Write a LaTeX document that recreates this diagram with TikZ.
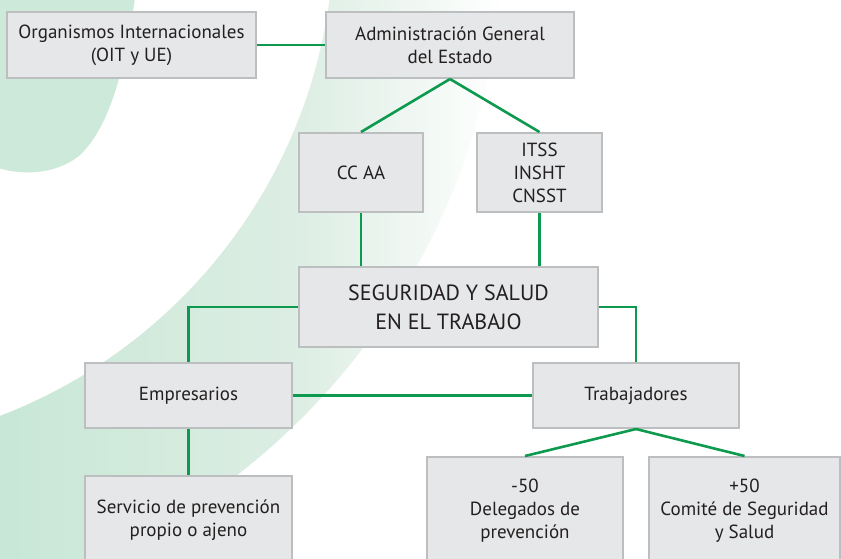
\documentclass[tikz,border=0pt]{standalone}
\usepackage{fontspec}
\setmainfont{PT Sans}
\definecolor{boxfill}{HTML}{E6E7E8}
\definecolor{boxline}{HTML}{BDBEC0}
\definecolor{linkgreen}{HTML}{0E9A4E}
\definecolor{bandA}{RGB}{200,231,214}
\definecolor{bandB}{RGB}{221,238,228}
\definecolor{blobgreen}{RGB}{205,233,217}
\definecolor{txt}{HTML}{231F20}
\begin{document}
\begin{tikzpicture}[x=1pt,y=-1pt,
  box/.style={draw=boxline, fill=boxfill, line width=2pt, text=txt, align=center,
    inner sep=0pt, font=\fontsize{19}{23}\selectfont},
  link/.style={draw=linkgreen, line width=2.6pt}]
\useasboundingbox (0,0) rectangle (841,558);
\begin{scope}
  \clip (0,0) rectangle (841,558);
  \fill[white] (0,0) rectangle (841,558);
  \coordinate (ctr) at (-186,-70);
  \begin{scope}
    \clip (ctr) circle (690);
    \foreach \i in {0,...,99}{
      \pgfmathtruncatemacro{\pa}{min(100,100*\i/60)}
      \pgfmathtruncatemacro{\pb}{max(0,100*(\i-60)/40)}
      \fill[white!\pb!bandB!\pa!bandA] (5*\i,-5) rectangle (5*\i+5.6,565);
    }
  \end{scope}
  \fill[white] (ctr) circle (520);
  \fill[blobgreen] (-2,-2) -- (135,-2) .. controls (126,60) and (112,125) .. (80,155)
    .. controls (60,172) and (28,177) .. (-2,168) -- cycle;
\end{scope}
\node[box, minimum width=249pt, minimum height=66pt] (org) at (131.5,45) {Organismos Internacionales\\(OIT y UE)};
\node[box, minimum width=248pt, minimum height=66pt] (adm) at (450,45) {Administración General\\del Estado};
\node[box, minimum width=124pt, minimum height=79pt] (cc) at (361,172.5) {CC AA};
\node[box, minimum width=125pt, minimum height=79pt] (itss) at (539.5,172.5) {ITSS\\INSHT\\CNSST};
\node[box, minimum width=299pt, minimum height=80pt, font=\fontsize{22}{29}\selectfont] (seg) at (448.5,307) {SEGURIDAD Y SALUD\\EN EL TRABAJO};
\node[box, minimum width=207pt, minimum height=65pt] (emp) at (188.5,395.5) {Empresarios};
\node[box, minimum width=206pt, minimum height=65pt] (trab) at (636,395.5) {Trabajadores};
\node[box, minimum width=207pt, minimum height=88pt] (serv) at (188.5,520) {Servicio de prevención\\propio o ajeno};
\node[box, minimum width=196pt, minimum height=108pt] (del) at (525,511) {-50\\Delegados de\\prevención};
\node[box, minimum width=191pt, minimum height=108pt] (com) at (744.5,511) {+50\\Comité de Seguridad\\y Salud};
\draw[link] (org) -- (adm);
\draw[link] (adm.south) -- (cc.north);
\draw[link] (adm.south) -- (itss.north);
\draw[link] (cc.south) -- (cc.south |- seg.north);
\draw[link] (itss.south) -- (itss.south |- seg.north);
\draw[link] (seg.west) -| (emp.north);
\draw[link] (seg.east) -| (trab.north);
\draw[link] (emp.east) -- (trab.west);
\draw[link] (emp.south) -- (serv.north);
\draw[link] (trab.south) -- (del.north);
\draw[link] (trab.south) -- (com.north);
\end{tikzpicture}
\end{document}
